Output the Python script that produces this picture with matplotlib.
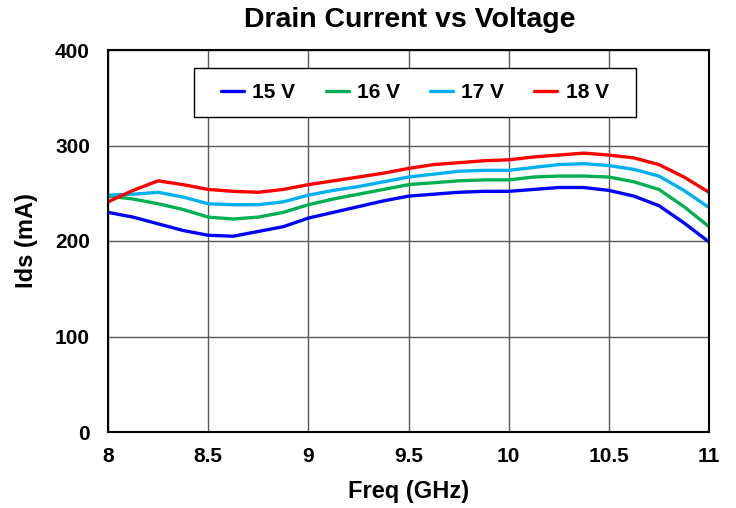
#!/usr/bin/env python3
"""Drain current vs frequency at four drain voltages."""

import matplotlib
matplotlib.use("Agg")
import matplotlib.pyplot as plt
from matplotlib.patches import Rectangle

plt.rcParams["font.family"] = ["Liberation Sans", "DejaVu Sans"]

freq = [8.0, 8.125, 8.25, 8.375, 8.5, 8.625, 8.75, 8.875, 9.0, 9.125, 9.25,
        9.375, 9.5, 9.625, 9.75, 9.875, 10.0, 10.125, 10.25, 10.375, 10.5,
        10.625, 10.75, 10.875, 11.0]

ids_15v = [230, 225, 218, 211, 206, 205, 210, 215, 224, 230, 236,
           242, 247, 249, 251, 252, 252, 254, 256, 256, 253,
           247, 237, 219, 199]
ids_16v = [247, 244, 239, 233, 225, 223, 225, 230, 238, 244, 249,
           254, 259, 261, 263, 264, 264, 267, 268, 268, 267,
           262, 254, 236, 215]
ids_17v = [248, 249, 251, 246, 239, 238, 238, 241, 248, 253, 257,
           262, 267, 270, 273, 274, 274, 277, 280, 281, 279,
           275, 268, 253, 235]
ids_18v = [241, 253, 263, 259, 254, 252, 251, 254, 259, 263, 267,
           271, 276, 280, 282, 284, 285, 288, 290, 292, 290,
           287, 280, 267, 251]

labels = ["15 V", "16 V", "17 V", "18 V"]
colors = ["#0000FF", "#00B050", "#00B0F0", "#FF0000"]

x_ticks = [8, 8.5, 9, 9.5, 10, 10.5, 11]
x_tick_labels = ["8", "8.5", "9", "9.5", "10", "10.5", "11"]
y_ticks = [0, 100, 200, 300, 400]


def main():
    fig = plt.figure(figsize=(7.36, 5.08), dpi=100)
    ax = fig.add_axes([108 / 736, 76 / 508, 601 / 736, 382 / 508])

    for series, label, color in zip([ids_15v, ids_16v, ids_17v, ids_18v], labels, colors):
        ax.plot(freq, series, color=color, linewidth=2.4, label=label,
                solid_joinstyle="round", solid_capstyle="round", zorder=3)

    ax.set_xlim(8, 11)
    ax.set_ylim(0, 400)
    ax.set_xticks(x_ticks)
    ax.set_xticklabels(x_tick_labels)
    ax.set_yticks(y_ticks)
    ax.tick_params(axis="x", length=0, labelsize=15, pad=11)
    ax.tick_params(axis="y", length=0, labelsize=15, pad=13)
    for lab in ax.get_xticklabels() + ax.get_yticklabels():
        lab.set_fontweight("bold")

    ax.grid(True, color="#595959", linewidth=1.0)
    ax.set_axisbelow(True)
    for sp in ax.spines.values():
        sp.set_color("black")
        sp.set_linewidth(1.5)
        sp.set_zorder(4)

    ax.set_xlabel("Freq (GHz)", fontsize=17, fontweight="bold", labelpad=10)
    ax.set_ylabel("Ids (mA)", fontsize=17, fontweight="bold", labelpad=12)
    fig.text(0.557, 0.960, "Drain Current vs Voltage", fontsize=20.5, fontweight="bold",
             ha="center", va="center")

    # legend box (axes fraction) with the entries centred inside it
    box = Rectangle((0.143, 0.8246), 0.7354, 0.1283, transform=ax.transAxes,
                    facecolor="white", edgecolor="black", linewidth=1.0, zorder=5)
    ax.add_patch(box)
    leg = ax.legend(loc="center", bbox_to_anchor=(0.5107, 0.8887), ncol=4,
                    frameon=False, prop={"weight": "bold", "size": 15},
                    handlelength=1.1, columnspacing=1.45, handletextpad=0.4,
                    borderpad=0, borderaxespad=0)
    leg.set_zorder(6)

    fig.savefig("out.png", dpi=100)
    plt.close(fig)


if __name__ == "__main__":
    main()
